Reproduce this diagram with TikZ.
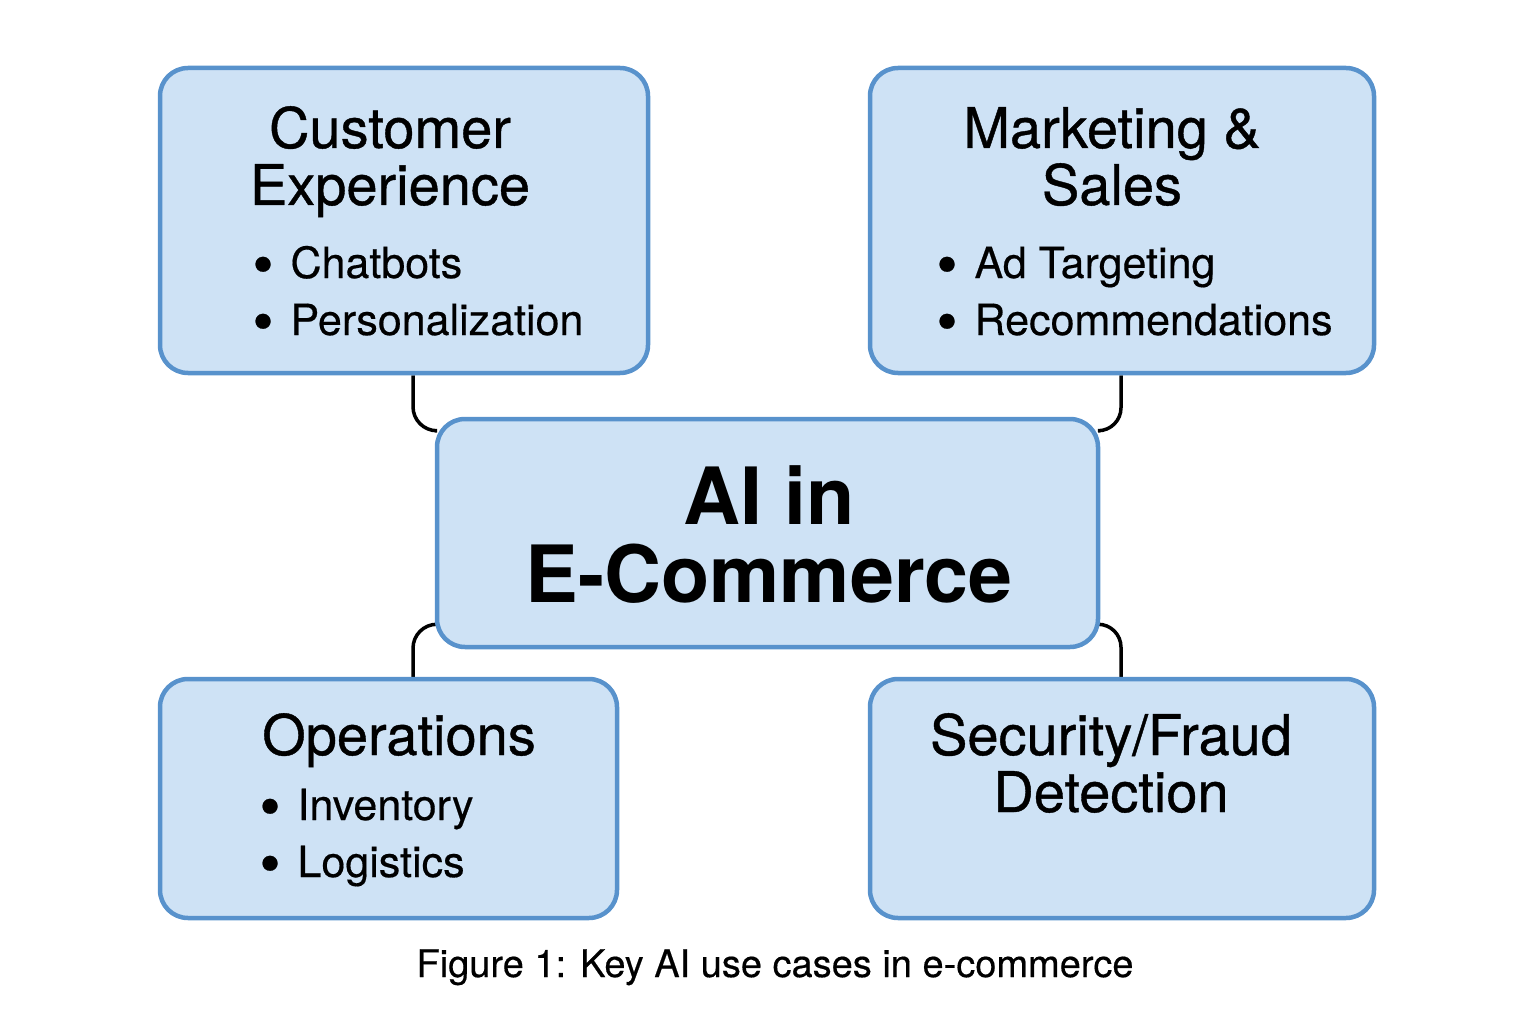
\documentclass[tikz,border=0pt]{standalone}
\usepackage{fontspec}
\setmainfont{TeX Gyre Heros}
\newfontfamily\medfont[FakeBold=0.7]{TeX Gyre Heros}
\newfontfamily\itemfont[FakeBold=0.4]{TeX Gyre Heros}
\usepackage{xcolor}
\usepackage{tikz}
\usetikzlibrary{positioning,backgrounds}

\definecolor{boxfill}{RGB}{206,226,245}
\definecolor{boxline}{RGB}{88,146,204}

\tikzset{
  usecase/.style={draw=boxline, fill=boxfill, line width=4.5pt, rounded corners=28pt, inner sep=0pt},
  link/.style={draw=black, line width=3.5pt},
  headtext/.style={anchor=base, align=center, font=\fontsize{56}{57}\medfont},
  itemtext/.style={anchor=base west, align=left, font=\fontsize{43}{57}\itemfont},
}
\newcommand{\bul}{\llap{\raisebox{-7pt}{\fontsize{60}{57}\selectfont\textbullet}\hspace{17pt}}}

\begin{document}
\begin{tikzpicture}[x=1pt,y=-1pt]
  \useasboundingbox (0,0) rectangle (1536,1024); % page = reference size
  % the five boxes
  \node[usecase, minimum width=488pt, minimum height=305pt] (ce)  at (404,220.5) {};
  \node[usecase, minimum width=504pt, minimum height=305pt] (ms)  at (1122,220.5) {};
  \node[usecase, minimum width=661pt, minimum height=228pt] (hub) at (767.5,533) {};
  \node[usecase, minimum width=457pt, minimum height=239pt] (ops) at (388.5,798.5) {};
  \node[usecase, minimum width=504pt, minimum height=239pt] (sec) at (1122,798.5) {};

  \begin{scope}[on background layer]
    \draw[link, rounded corners=24pt] ([xshift=9pt]ce.south) |- ([yshift=-14pt]hub.north west);
    \draw[link, rounded corners=23pt] ([xshift=-1pt]ms.south) |- ([yshift=-14pt]hub.north east);
    \draw[link, rounded corners=24pt] ([xshift=24.5pt]ops.north) |- ([yshift=25pt]hub.south west);
    \draw[link, rounded corners=23pt] ([xshift=-1pt]sec.north) |- ([yshift=25pt]hub.south east);
  \end{scope}

  % texts (base = last line)
  \node[headtext] (ceHead)  at (390,205)  {Customer\\Experience};
  \node[itemtext] (ceItems) at (287,335)  {\bul Chatbots\\\bul Personalization};
  \node[headtext] (msHead)  at (1112,205) {Marketing \&\\Sales};
  \node[itemtext] (msItems) at (971,335)  {\bul Ad Targeting\\\bul Recommendations};
  \node[anchor=base, align=center, font=\fontsize{79}{78}\selectfont\bfseries] (hubText) at (769,602) {AI in\\E-Commerce};
  \node[headtext] (opsHead)  at (399,755)  {Operations};
  \node[itemtext] (opsItems) at (294,877)  {\bul Inventory\\\bul Logistics};
  \node[headtext] (secHead)  at (1111,812) {Security/Fraud\\Detection};
  \node[anchor=base, font=\fontsize{38}{40}\itemfont] (caption) at (775,977) {Figure 1: Key AI use cases in e-commerce};
\end{tikzpicture}
\end{document}
